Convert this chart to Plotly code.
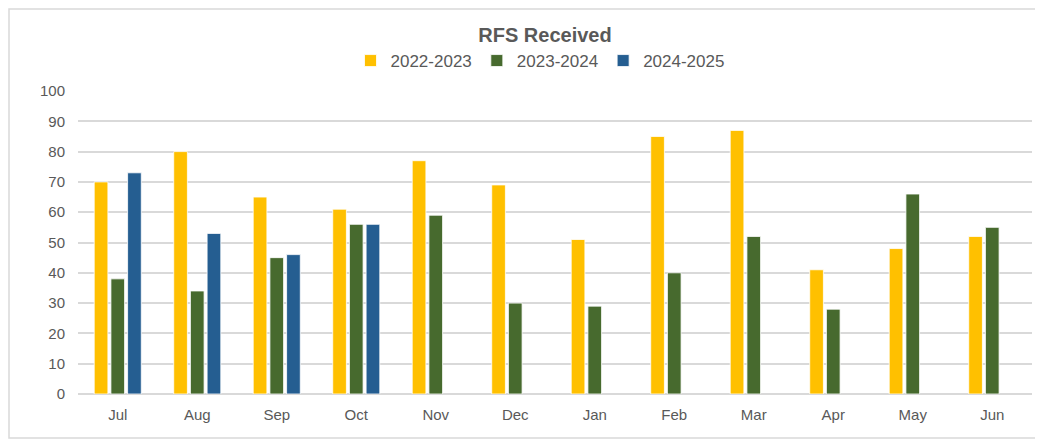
import plotly.graph_objects as go

months = ["Jul", "Aug", "Sep", "Oct", "Nov", "Dec", "Jan", "Feb", "Mar", "Apr", "May", "Jun"]
fy2223 = [70, 80, 65, 61, 77, 69, 51, 85, 87, 41, 48, 52]
fy2324 = [38, 34, 45, 56, 59, 30, 29, 40, 52, 28, 66, 55]
fy2425 = [73, 53, 46, 56, None, None, None, None, None, None, None, None]
series_names = ["2022-2023", "2023-2024", "2024-2025"]
colors = ["#FFC000", "#476A2E", "#255E91"]
y_ticks = list(range(0, 101, 10))

fig = go.Figure()
for name, vals, col in zip(series_names, [fy2223, fy2324, fy2425], colors):
    fig.add_trace(go.Bar(x=months, y=vals, name=name, marker_color=col,
                         marker_line_color="white", marker_line_width=0.8))

W, H = 1043, 440
off = 8  # page offset of the figure in the browser
ml, mr, mt, mb = 78 - off, 19, 91 - off, H - (394 - off)
pw, ph = W - ml - mr, H - mt - mb

fig.update_layout(
    width=W, height=H,
    margin=dict(l=ml, r=mr, t=mt, b=mb, autoexpand=False),
    paper_bgcolor="white", plot_bgcolor="white",
    barmode="group", bargap=0.37, bargroupgap=0.18,
    font=dict(family="Liberation Sans, Arial, sans-serif", color="#595959"),
    title=dict(text="<b>RFS Received</b>", x=(545 - off) / W, xanchor="center",
               y=1 - (35 - off) / H, yanchor="middle",
               font=dict(family="Liberation Sans, Arial, sans-serif",
                         size=20, color="#595959")),
    legend=dict(orientation="h", x=(540 - off) / W, xanchor="center", xref="container",
                y=1 - (61 - off) / H, yanchor="middle", yref="container",
                font=dict(family="Liberation Sans, Arial, sans-serif",
                          size=17, color="#595959"),
                itemwidth=30, traceorder="normal", tracegroupgap=0),
    xaxis=dict(showgrid=False, showline=False, ticks="", automargin=False,
               ticklabelstandoff=10,
               tickfont=dict(size=15, color="#595959")),
    yaxis=dict(range=[0, 100], tickvals=y_ticks, showgrid=True, gridcolor="#d9d9d9",
               gridwidth=1.5, zeroline=True, zerolinecolor="#d9d9d9", zerolinewidth=1.5,
               ticks="", ticklabelstandoff=12, automargin=False,
               tickfont=dict(size=15, color="#595959")),
    shapes=[dict(type="rect", xref="paper", yref="paper",
                 x0=(1 - ml) / pw, x1=(W - 1 - ml) / pw,
                 y0=(mt + ph - (438 - off)) / ph, y1=(mt + ph - 1) / ph,
                 line=dict(color="#d9d9d9", width=1.5), layer="below")],
)

fig.write_html("out.html")
